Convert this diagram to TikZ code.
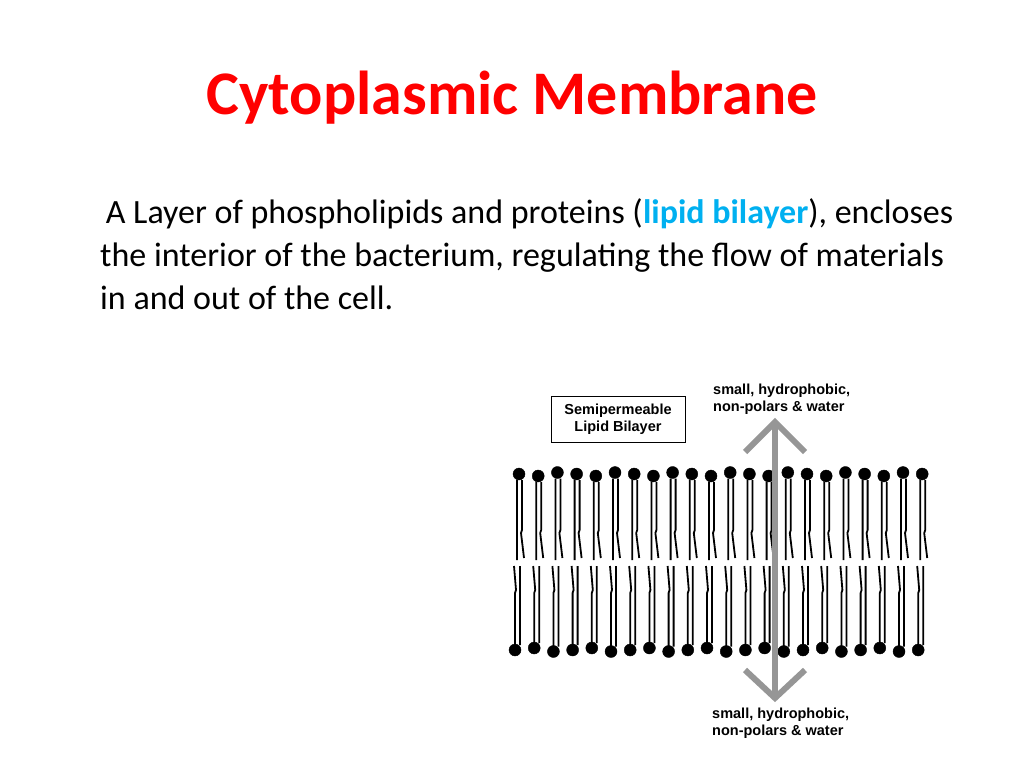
\documentclass[tikz,border=0pt]{standalone}
\usepackage{fontspec}
\setmainfont{Carlito}
\newfontfamily\labelfont{Liberation Sans}
\usetikzlibrary{calc}
\definecolor{titlered}{RGB}{255,0,0}
\definecolor{bilayerblue}{RGB}{0,176,240}
\definecolor{arrowgray}{RGB}{150,150,150}
\tikzset{
  head/.style={fill=black,draw=black},
  tail/.style={line width=1.8pt},
  lbl/.style={font=\labelfont\bfseries\fontsize{14.5}{17}\selectfont,align=left,inner sep=1pt},
  flow/.style={draw=arrowgray,line width=6pt}
}
\begin{document}
\begin{tikzpicture}[x=1pt,y=-1pt]
\useasboundingbox (0,0) rectangle (1024,768);
\node[text=titlered,font=\bfseries\fontsize{62}{70}\selectfont] (title) at (512,98) {Cytoplasmic Membrane};
\node[anchor=north west,align=left,font=\fontsize{34}{43}\selectfont,inner sep=0pt] (body) at (100,198)
  {\,A Layer of phospholipids and proteins (\textcolor{bilayerblue}{\bfseries lipid bilayer}), encloses\\
   the interior of the bacterium, regulating the flow of materials\\
   in and out of the cell.};
\node[draw,line width=1pt,lbl,minimum width=134pt,minimum height=46pt,align=center] (box) at (618,419)
  {Semipermeable\\Lipid Bilayer};
% bilayer
\foreach \i in {0,...,21}{
  \pgfmathsetmacro\x{519+19.2*\i}
  \pgfmathsetmacro\dy{mod(\i,3)==1 ? 2 : (mod(\i,3)==2 ? -1.5 : 0)}
  \draw[tail] (\x-2,480+\dy) -- (\x-2,560) (\x+3,480+\dy) -- (\x+3,530) -- (\x+2,533) -- (\x+5,558);
  \fill[head] (\x,474+\dy) circle (6);
  \draw[tail] (\x-5,566) -- (\x-3,590) -- (\x-4,593) -- (\x-4,645-\dy) (\x+1,566) -- (\x+1,645-\dy);
  \fill[head] (\x-4,650-\dy) circle (6);
}
% flow arrow
\coordinate (up) at (775,422);
\coordinate (down) at (775,698);
\draw[flow] (up) -- (down);
\draw[flow] ($(up)+(-30,30)$) -- (up) -- ($(up)+(30,30)$);
\draw[flow] ($(down)+(-30,-28)$) -- (down) -- ($(down)+(30,-28)$);
\node[lbl,anchor=south west] (toplbl) at (712,416) {small, hydrophobic,\\non-polars \& water};
\node[lbl,anchor=north west] (botlbl) at (711,707) {small, hydrophobic,\\non-polars \& water};
\end{tikzpicture}
\end{document}
